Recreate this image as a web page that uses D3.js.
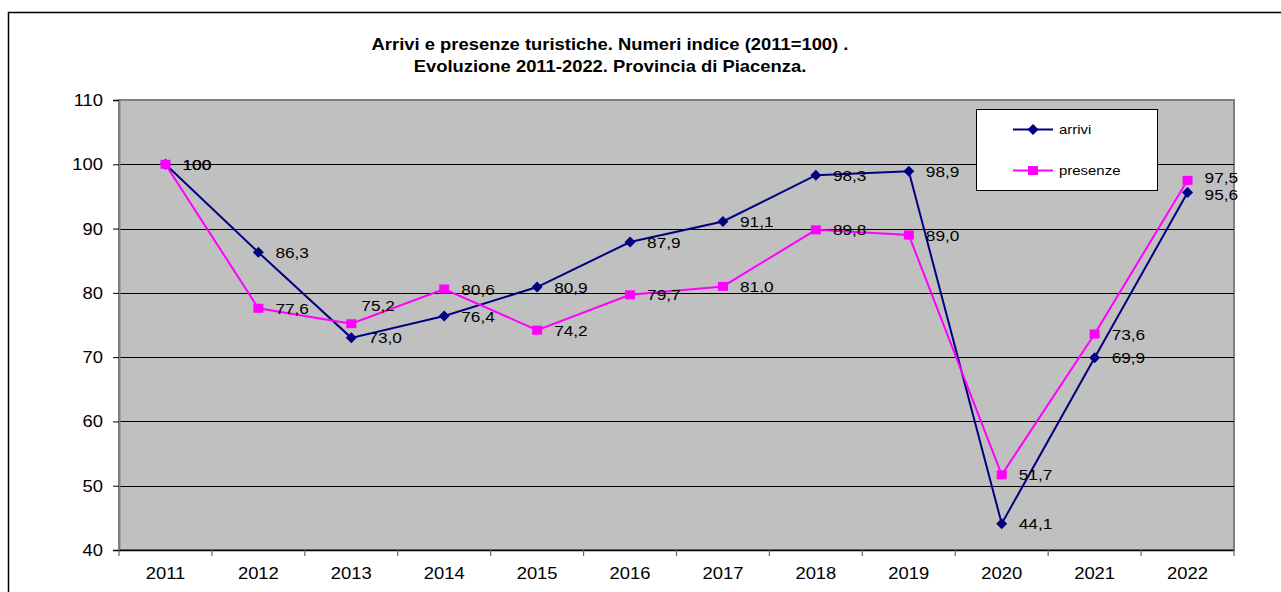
<!DOCTYPE html>
<html>
<head>
<meta charset="utf-8">
<script src="https://cdn.jsdelivr.net/npm/d3@7"></script>
<style>
  html, body { margin: 0; padding: 0; background: #fff; overflow: hidden; }
  svg { display: block; font-family: "Liberation Sans", Arial, sans-serif; }
</style>
</head>
<body>
<div class="chart"></div>
<script>
const years    = ['2011', '2012', '2013', '2014', '2015', '2016', '2017', '2018', '2019', '2020', '2021', '2022'];
const arrivi   = [100, 86.3, 73.0, 76.4, 80.9, 87.9, 91.1, 98.3, 98.9, 44.1, 69.9, 95.6];
const presenze = [100, 77.6, 75.2, 80.6, 74.2, 79.7, 81.0, 89.8, 89.0, 51.7, 73.6, 97.5];
const yTicks   = [40, 50, 60, 70, 80, 90, 100, 110];
const titleLines = [
    'Arrivi e presenze turistiche. Numeri indice (2011=100) .',
    'Evoluzione 2011-2022. Provincia di Piacenza.'
];

const svgSize = { width: 1281, height: 592 };
const plot = { left: 119, right: 1234, top: 100, bottom: 550 };
const stretch = 1.15; // text in the source is a bit wide

const svg = d3.select('.chart')
    .append('svg')
    .attr('width', svgSize.width)
    .attr('height', svgSize.height)
;

// outer frame (runs off to the right / bottom)
svg.append('rect')
    .attr('x', 8.5).attr('y', 12.5)
    .attr('width', 1400).attr('height', 700)
    .attr('fill', 'none')
    .attr('stroke', '#000')
    .attr('stroke-width', 1.5)
;

const xScale = d3.scaleBand()
    .domain(years)
    .range([ plot.left, plot.right ])
;
const xMid = (y) => xScale(y) + xScale.bandwidth() / 2;

const yScale = d3.scaleLinear()
    .domain([ 40, 110 ])
    .range([ plot.bottom, plot.top ])
;

const stretchedText = (g, x, y, str, opts = {}) => g.append('text')
    .attr('transform', `translate(${x},${y}) scale(${stretch},1)`)
    .attr('text-anchor', opts.anchor || 'start')
    .attr('font-size', opts.size || 15)
    .attr('font-weight', opts.weight || 'normal')
    .attr('fill', '#000')
    .text(str)
;

// title
titleLines.forEach((t, i) => {
    stretchedText(svg, 610, 50 + i * 22, t, { anchor: 'middle', size: 16, weight: 'bold' });
});

// plot area
svg.append('rect')
    .attr('x', plot.left).attr('y', plot.top)
    .attr('width', plot.right - plot.left)
    .attr('height', plot.bottom - plot.top)
    .attr('fill', '#c0c0c0')
    .attr('stroke', '#808080')
    .attr('stroke-width', 2)
;

// gridlines
svg.append('g')
    .selectAll('line')
    .data(yTicks.filter(v => v > 40 && v < 110))
    .join('line')
    .attr('x1', plot.left).attr('x2', plot.right)
    .attr('y1', d => Math.round(yScale(d)) + 0.5)
    .attr('y2', d => Math.round(yScale(d)) + 0.5)
    .attr('stroke', '#000')
    .attr('stroke-width', 1)
;

// y axis
const yAxisGroup = svg.append('g')
    .attr('transform', `translate(${plot.left}, 0)`)
    .call(d3.axisLeft(yScale).tickValues(yTicks).tickSize(6).tickFormat(''))
;
yAxisGroup.select('.domain').attr('stroke', '#808080').attr('stroke-width', 2);
yAxisGroup.selectAll('.tick line').attr('stroke', '#000');
yTicks.forEach(v => stretchedText(svg, 103, yScale(v) + 6, String(v), { anchor: 'end', size: 16 }));

// x axis
svg.append('line')
    .attr('x1', plot.left).attr('x2', plot.right)
    .attr('y1', plot.bottom + 0.5).attr('y2', plot.bottom + 0.5)
    .attr('stroke', '#000')
    .attr('stroke-width', 1.5)
;
const bounds = years.map(y => xScale(y)).concat([ plot.right ]);
svg.append('g')
    .selectAll('line')
    .data(bounds)
    .join('line')
    .attr('x1', d => d).attr('x2', d => d)
    .attr('y1', plot.bottom).attr('y2', plot.bottom + 6)
    .attr('stroke', '#666')
    .attr('stroke-width', 1.2)
;
years.forEach(y => stretchedText(svg, xMid(y), 579, y, { anchor: 'middle', size: 16 }));

// series
const series = [
    { name: 'arrivi',   values: arrivi,   color: '#000080', marker: 'diamond' },
    { name: 'presenze', values: presenze, color: '#ff00ff', marker: 'square' },
];

// label nudges where the source moved a label off its default place
const labelShift = {
    arrivi:   { '2022': [ 0, 2 ] },
    presenze: { '2013': [ -7, -18 ], '2022': [ 0, -3 ] }
};

const line = d3.line()
    .x(d => xMid(d.year))
    .y(d => yScale(d.value))
;

const drawMarker = (g, type, x, y, color) => {
    if (type === 'diamond') {
        g.append('path')
            .attr('d', `M${x},${y - 5.5}L${x + 5.5},${y}L${x},${y + 5.5}L${x - 5.5},${y}Z`)
            .attr('fill', color);
    } else {
        g.append('rect')
            .attr('x', x - 5).attr('y', y - 4.5)
            .attr('width', 10).attr('height', 9)
            .attr('fill', color);
    }
};

const fmt = v => v === 100 ? '100' : v.toFixed(1).replace('.', ',');

const seriesGroup = svg.append('g');
series.forEach(s => {
    const pts = s.values.map((v, i) => ({ year: years[i], value: v }));
    const g = seriesGroup.append('g');
    g.append('path')
        .datum(pts)
        .attr('d', line)
        .attr('fill', 'none')
        .attr('stroke', s.color)
        .attr('stroke-width', 2)
    ;
    pts.forEach(p => drawMarker(g, s.marker, xMid(p.year), yScale(p.value), s.color));
});

const labelGroup = svg.append('g');
series.forEach(s => {
    s.values.forEach((v, i) => {
        const shift = (labelShift[s.name] && labelShift[s.name][years[i]]) || [ 0, 0 ];
        stretchedText(labelGroup, xMid(years[i]) + 17 + shift[0], yScale(v) + 5.5 + shift[1], fmt(v), { size: 15 });
    });
});

// legend
const legend = svg.append('g');
legend.append('rect')
    .attr('x', 976.5).attr('y', 109.5)
    .attr('width', 181).attr('height', 81)
    .attr('fill', '#fff')
    .attr('stroke', '#000')
    .attr('stroke-width', 1)
;
series.forEach((s, i) => {
    const ly = 129.5 + i * 41;
    legend.append('line')
        .attr('x1', 1013).attr('x2', 1053)
        .attr('y1', ly).attr('y2', ly)
        .attr('stroke', s.color)
        .attr('stroke-width', 2)
    ;
    drawMarker(legend, s.marker, 1033, ly, s.color);
    stretchedText(legend, 1059, ly + 4.5, s.name, { size: 13 });
});
</script>
</body>
</html>
